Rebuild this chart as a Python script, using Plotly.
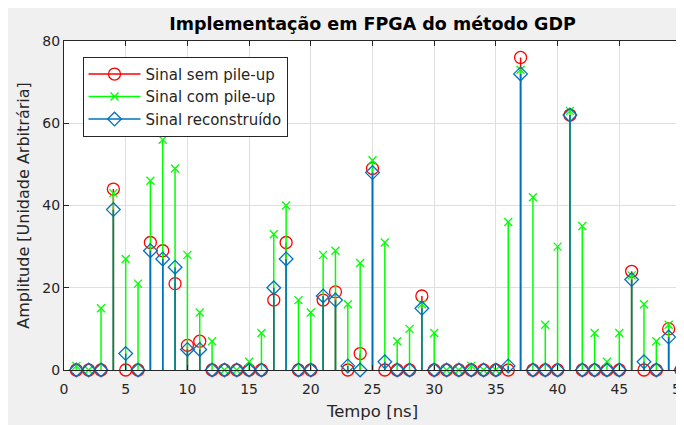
import plotly.graph_objects as go

tempo = list(range(1, 51))
sem_pileup = [0, 0, 0, 44, 0, 0, 31, 29, 21, 6,
              7, 0, 0, 0, 0, 0, 17, 31, 0, 0,
              17, 19, 0, 4, 49, 0, 0, 0, 18, 0,
              0, 0, 0, 0, 0, 0, 76, 0, 0, 0,
              62, 0, 0, 0, 0, 24, 0, 0, 10, 0]
com_pileup = [1, 0, 15, 43, 27, 21, 46, 56, 49, 28,
              14, 7, 0, 0, 2, 9, 33, 40, 17, 14,
              28, 29, 16, 26, 51, 31, 7, 10, 16, 9,
              0, 0, 1, 0, 0, 36, 73, 42, 11, 30,
              63, 35, 9, 2, 9, 23, 16, 7, 11, 6]
reconstruido = [0, 0, 0, 39, 4, 0, 29, 27, 25, 5,
                5, 0, 0, 0, 0, 0, 20, 27, 0, 0,
                18, 17, 1, 0, 48, 2, 0, 0, 15, 0,
                0, 0, 0, 0, 0, 1, 72, 0, 0, 0,
                62, 0, 0, 0, 0, 22, 2, 0, 8, 0]

x_ticks = list(range(0, 51, 5))
y_ticks = [0, 20, 40, 60, 80]

series = [
    ("Sinal sem pile-up", sem_pileup, "#FF0000", "circle-open", 12),
    ("Sinal com pile-up", com_pileup, "#00FF00", "x-thin-open", 8),
    ("Sinal reconstruído", reconstruido, "#0072BD", "diamond-open", 10.5),
]

FONT = "DejaVu Sans, Verdana, sans-serif"
TXT = "#262626"
fig = go.Figure()

for i, (name, vals, color, sym, msize) in enumerate(series):
    sx, sy = [], []
    for xv, yv in zip(tempo, vals):
        sx += [xv, xv, None]
        sy += [0, yv, None]
    fig.add_trace(go.Scatter(x=sx, y=sy, mode="lines", showlegend=False,
                             line=dict(color=color, width=1.5), hoverinfo="skip"))
    fig.add_trace(go.Scatter(x=tempo, y=vals, mode="markers", showlegend=False,
                             cliponaxis=False,
                             marker=dict(symbol=sym, size=msize, color=color,
                                         line=dict(color=color, width=1.3))))
    fig.add_trace(go.Scatter(x=[None], y=[None], mode="lines+markers", name=name,
                             line=dict(color=color, width=1.5),
                             marker=dict(symbol=sym, size=msize, color=color,
                                         line=dict(color=color, width=1.3))))

axis_common = dict(showline=True, linecolor=TXT, linewidth=1, mirror="ticks",
                   ticks="inside", ticklen=5, tickcolor=TXT,
                   showgrid=True, gridcolor="#DFDFDF", gridwidth=1, zeroline=False,
                   tickfont=dict(family=FONT, size=14, color=TXT))

fig.update_layout(
    width=684, height=425,
    paper_bgcolor="#F0F0F0", plot_bgcolor="white",
    margin=dict(l=56, r=11, t=33, b=63, autoexpand=False),
    title=dict(text="<b>Implementação em FPGA do método GDP</b>",
               x=(56 + 673) / 2 / 684, xanchor="center", y=1 - 16 / 425, yanchor="middle",
               font=dict(family=FONT, size=17.5, color="#000000")),
    xaxis=dict(range=[0, 50], tickvals=x_ticks, automargin=False, ticklabelstandoff=6,
               title=dict(text="Tempo [ns]", font=dict(family=FONT, size=16.5, color=TXT), standoff=9),
               **axis_common),
    yaxis=dict(range=[0, 80], tickvals=y_ticks, automargin=False,
               title=dict(text="Amplitude [Unidade Arbitrária]", font=dict(family=FONT, size=16, color=TXT), standoff=8),
               **axis_common),
    legend=dict(x=0.03, y=0.952, xanchor="left", yanchor="top",
                bgcolor="white", bordercolor=TXT, borderwidth=1,
                font=dict(family=FONT, size=15, color=TXT),
                itemwidth=52, tracegroupgap=0),
    showlegend=True,
)

fig.write_html("out.html")
